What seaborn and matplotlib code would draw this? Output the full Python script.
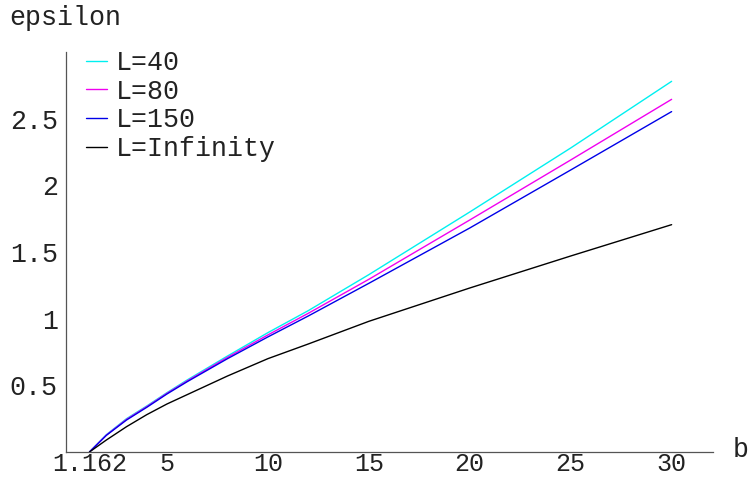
import matplotlib
matplotlib.use("Agg")
import matplotlib.pyplot as plt
import pandas as pd
import seaborn as sns

# data
b_vals = [1.162, 2, 3, 4, 5, 6, 8, 10, 12, 15, 20, 25, 30]
eps_L40 = [0, 0.13, 0.25, 0.345, 0.445, 0.54, 0.72, 0.895, 1.06, 1.33, 1.80, 2.28, 2.78]
eps_L80 = [0, 0.127, 0.245, 0.34, 0.44, 0.533, 0.71, 0.878, 1.04, 1.295, 1.74, 2.19, 2.645]
eps_L150 = [0, 0.125, 0.24, 0.335, 0.435, 0.527, 0.70, 0.863, 1.02, 1.265, 1.68, 2.115, 2.553]
eps_Linf = [0, 0.09, 0.19, 0.28, 0.36, 0.43, 0.57, 0.70, 0.81, 0.98, 1.23, 1.47, 1.705]
series_names = ["L=40", "L=80", "L=150", "L=Infinity"]
series_colors = ["#00f0f0", "#f000f0", "#0000e8", "#000000"]
x_ticks = [1.162, 5, 10, 15, 20, 25, 30]
x_tick_labels = ["1.162", "5", "10", "15", "20", "25", "30"]
y_ticks = [0.5, 1, 1.5, 2, 2.5]
y_tick_labels = ["0.5", "1", "1.5", "2", "2.5"]

frames = []
for name, vals in zip(series_names, [eps_L40, eps_L80, eps_L150, eps_Linf]):
    frames.append(pd.DataFrame({"b": b_vals, "epsilon": vals, "L": name}))
df = pd.concat(frames, ignore_index=True)

sns.set_style("white")
plt.rcParams["font.family"] = ["Liberation Mono", "DejaVu Sans Mono"]
fs = 19.2

fig = plt.figure(figsize=(7.51, 4.79), dpi=100)
ax = fig.add_axes([66 / 751, 27 / 479, 647 / 751, 400 / 479])

sns.lineplot(data=df, x="b", y="epsilon", hue="L", hue_order=series_names,
             palette=series_colors, linewidth=1.0, ax=ax, sort=False)

ax.set_xlim(0, 32.05)
ax.set_ylim(0, 3.0)
ax.set_xticks(x_ticks)
ax.set_xticklabels(x_tick_labels)
ax.set_yticks(y_ticks)
ax.set_yticklabels(y_tick_labels)
ax.set_xlabel("")
ax.set_ylabel("")

for side in ["top", "right"]:
    ax.spines[side].set_visible(False)
for side in ["left", "bottom"]:
    ax.spines[side].set_color("#555555")
    ax.spines[side].set_linewidth(0.9)

ax.tick_params(axis="both", direction="in", length=4, width=0.8, color="#555555",
               labelsize=fs, colors="#222222")
ax.tick_params(axis="x", pad=0, labelsize=18)
ax.tick_params(axis="y", pad=6)

fig.text(9 / 751, 1 - 18 / 479, "epsilon", fontsize=fs, ha="left", va="center", color="#222222")
fig.text(733 / 751, 1 - 450 / 479, "b", fontsize=fs, ha="left", va="center", color="#222222")

handles, labels = ax.get_legend_handles_labels()
ax.legend(handles, labels, loc="upper left", bbox_to_anchor=(86 / 751, 1 - 50 / 479),
          bbox_transform=fig.transFigure, frameon=False, fontsize=fs,
          handlelength=0.78, handletextpad=0.33, labelspacing=0.1,
          borderpad=0, borderaxespad=0, labelcolor="#222222")

fig.savefig("out.png", dpi=100)
